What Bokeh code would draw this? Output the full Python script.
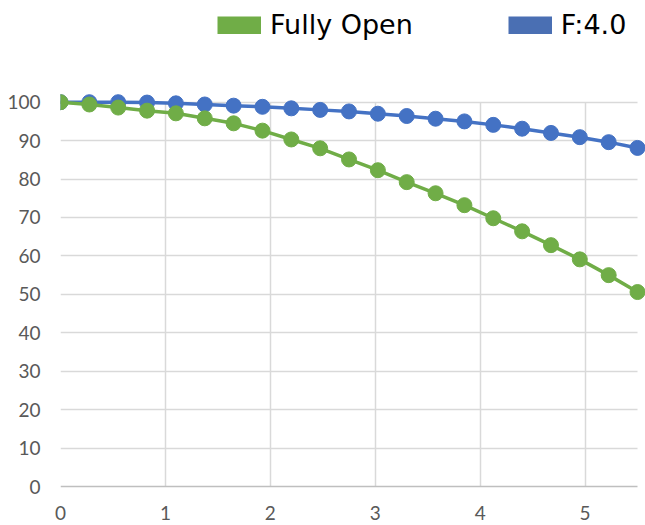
from bokeh.plotting import figure
from bokeh.models import Range1d, FixedTicker, Legend, LegendItem, Grid
from bokeh.embed import file_html
from bokeh.resources import INLINE

# ---- data ----
x_values = [0, 0.275, 0.55, 0.825, 1.1, 1.375, 1.65, 1.925, 2.2, 2.475, 2.75,
            3.025, 3.3, 3.575, 3.85, 4.125, 4.4, 4.675, 4.95, 5.225, 5.5]
fully_open = [100, 99.4, 98.6, 97.8, 97.1, 95.8, 94.5, 92.6, 90.3, 88.0, 85.1,
              82.3, 79.2, 76.3, 73.2, 69.8, 66.4, 62.8, 59.1, 55.0, 50.6]
f_4_0 = [100, 100, 100, 99.9, 99.7, 99.4, 99.1, 98.8, 98.4, 98.0, 97.6,
         97.0, 96.4, 95.7, 95.0, 94.1, 93.1, 92.0, 90.9, 89.6, 88.1]
series_names = ["Fully Open", "F:4.0"]
x_ticks = [0, 1, 2, 3, 4, 5]
y_ticks = [0, 10, 20, 30, 40, 50, 60, 70, 80, 90, 100]

GREEN = "#70AD47"
BLUE = "#4472C4"
GRID = "#D9D9D9"
AXIS = "#BFBFBF"
LABEL = "#595959"
NAN = float("nan")

p = figure(width=645, height=525, output_backend="svg", toolbar_location=None,
           x_range=Range1d(0, 5.576), y_range=Range1d(-0.78, 126.46),
           min_border_left=60, min_border_right=0, min_border_top=0,
           min_border_bottom=36)
p.outline_line_color = None
p.background_fill_color = "white"
p.border_fill_color = "white"

# grid
p.xgrid.ticker = FixedTicker(ticks=x_ticks)
p.ygrid.ticker = FixedTicker(ticks=y_ticks[1:])
for g in (p.xgrid, p.ygrid):
    g.grid_line_color = GRID
    g.grid_line_width = 1.5
p.xgrid.cross_bounds = (0, 100)
p.ygrid.cross_bounds = (0, 5.5)
base = Grid(dimension=1, ticker=FixedTicker(ticks=y_ticks[:1]),
            grid_line_color=AXIS, grid_line_width=1.5, cross_bounds=(0, 5.5))
p.add_layout(base)

# axes
xa = p.xaxis[0]
ya = p.yaxis[0]
xa.ticker = FixedTicker(ticks=x_ticks)
ya.ticker = FixedTicker(ticks=y_ticks)
xa.axis_line_color = None
ya.axis_line_color = None
for a in (xa, ya):
    a.major_tick_line_color = None
    a.minor_tick_line_color = None
    a.major_tick_out = 0
    a.major_tick_in = 0
    a.major_label_text_font = "Lato"
    a.major_label_text_font_size = "19px"
    a.major_label_text_color = LABEL
xa.major_label_standoff = 16
ya.major_label_standoff = 20

# series (blue first, green on top)
p.line(x_values, f_4_0, line_color=BLUE, line_width=3.5)
p.scatter(x_values, f_4_0, size=15, fill_color=BLUE, line_color=BLUE)
p.line(x_values, fully_open, line_color=GREEN, line_width=3.5)
p.scatter(x_values, fully_open, size=15, fill_color=GREEN, line_color=GREEN)

# legend swatches: non-drawing (NaN) line renderers shown as thick bars in the legend
sw_green = p.line([NAN], [NAN], line_color=GREEN, line_width=18, line_cap="butt")
sw_blue = p.line([NAN], [NAN], line_color="#4A6FB3", line_width=18, line_cap="butt")

legend = Legend(items=[LegendItem(label=series_names[0], renderers=[sw_green]),
                       LegendItem(label=series_names[1], renderers=[sw_blue])],
                orientation="horizontal", location=(157, 449))
legend.glyph_width = 44
legend.glyph_height = 18
legend.label_standoff = 9
legend.spacing = 95
legend.padding = 0
legend.margin = 0
legend.border_line_color = None
legend.background_fill_alpha = 0
legend.label_text_font = "DejaVu Sans"
legend.label_text_font_size = "27px"
legend.label_text_color = "#000000"
p.add_layout(legend, "center")

open("out.html", "w").write(file_html(p, INLINE))
